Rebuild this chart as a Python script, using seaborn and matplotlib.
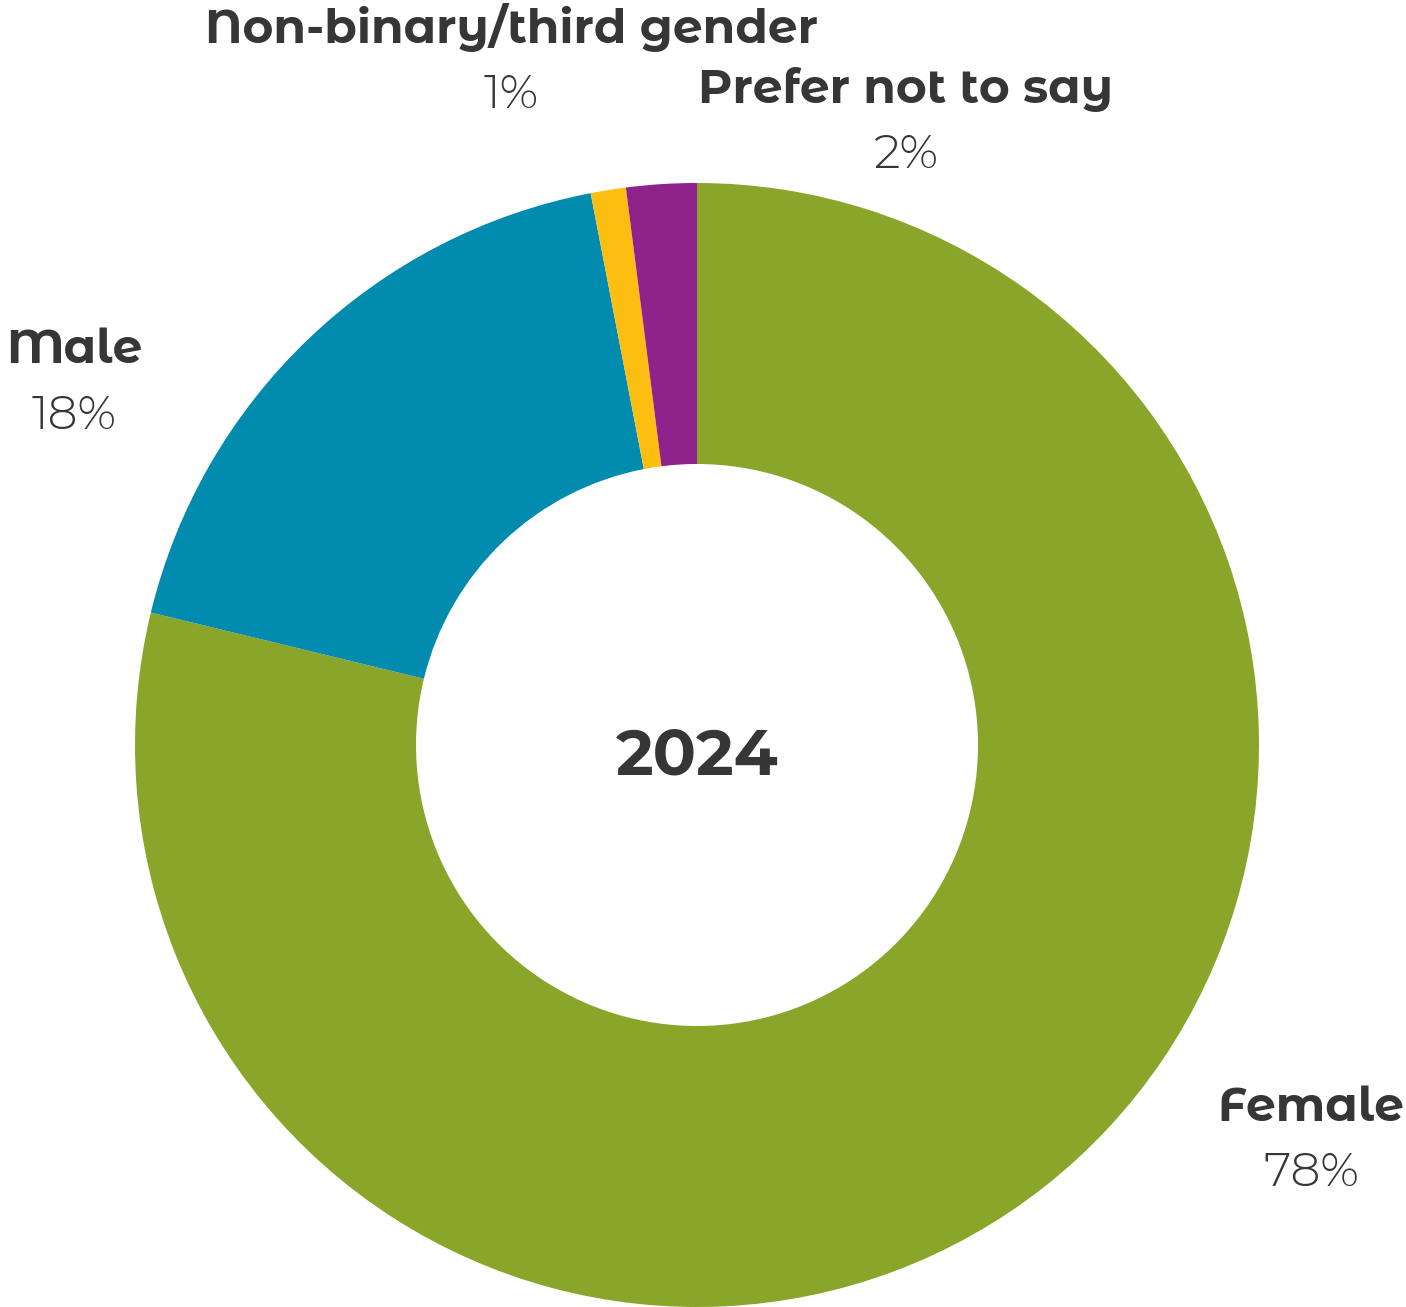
import matplotlib
matplotlib.use("Agg")
import matplotlib.pyplot as plt
import seaborn as sns

# Gender breakdown of respondents, 2024
categories = ["Female", "Male", "Non-binary/third gender", "Prefer not to say"]
values = [78, 18, 1, 2]
pct_labels = ["78%", "18%", "1%", "2%"]
colors = ["#8AA62A", "#008BAF", "#FDBE12", "#8E238B"]
year = "2024"

sns.set_theme(style="white")
plt.rcParams["font.family"] = ["Montserrat Alternates", "DejaVu Sans"]

W, H = 1406, 1307
fig = plt.figure(figsize=(W / 100, H / 100), dpi=100)
ax = fig.add_axes([0, 0, 1, 1])

cx, cy, r = 697, H - 745, 562
ax.pie(values, colors=colors, startangle=90, counterclock=False,
       center=(cx, cy), radius=r, frame=True,
       wedgeprops=dict(width=r - 281, linewidth=0))
ax.set_xlim(0, W)
ax.set_ylim(0, H)
ax.set_aspect("equal")
ax.axis("off")

text_color = "#363636"
label_pos = {
    "Female": (1311, 1108, 1173),
    "Male": (74, 350, 416),
    "Non-binary/third gender": (511, 27, 95),
    "Prefer not to say": (906, 89, 155),
}
for cat, pct in zip(categories, pct_labels):
    x, y1, y2 = label_pos[cat]
    ax.text(x, H - y1, cat, ha="center", va="center", fontsize=34,
            fontweight=700, color=text_color)
    ax.text(x, H - y2, pct, ha="center", va="center", fontsize=34,
            fontweight=300, color=text_color)

ax.text(cx, H - 757, year, ha="center", va="center", fontsize=46,
        fontweight=700, color=text_color)

fig.savefig("out.png", dpi=100, facecolor="white")
